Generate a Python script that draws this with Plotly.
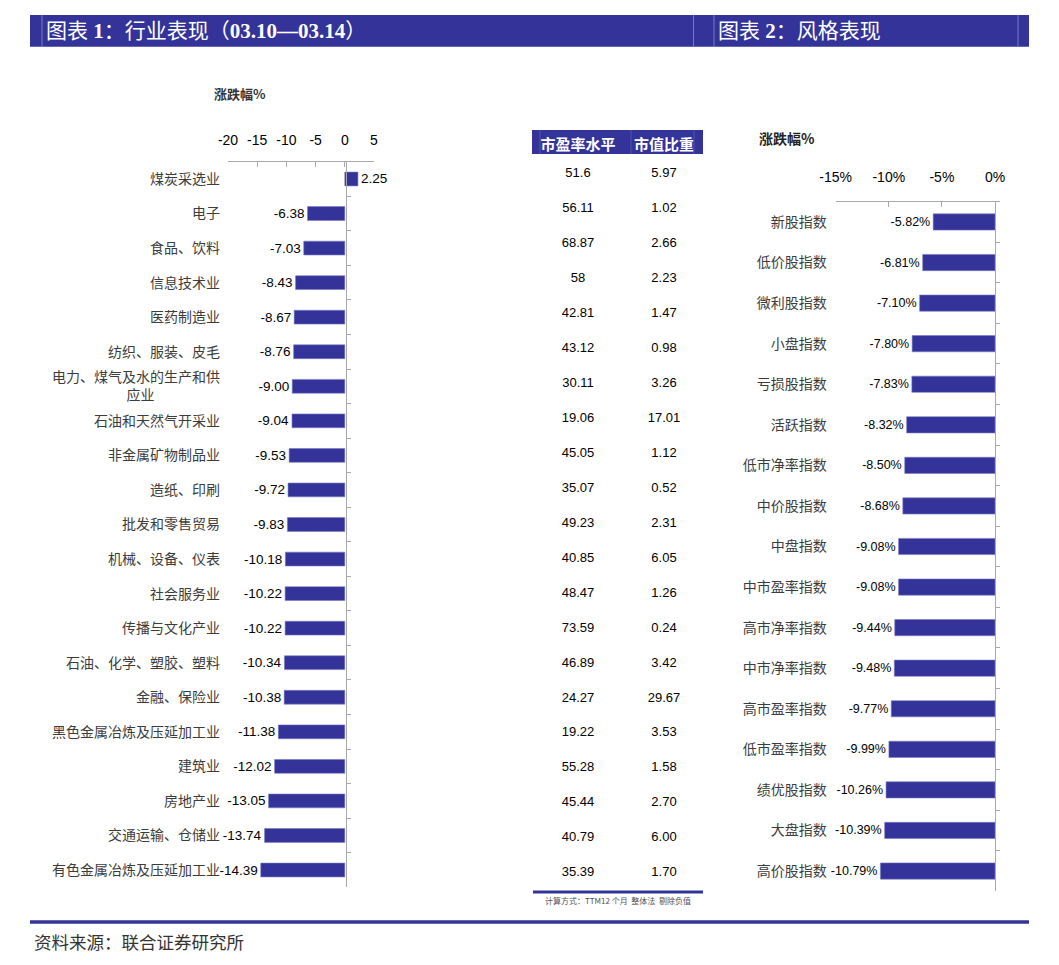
import plotly.graph_objects as go

W, H = 1059, 965
OFF = 8                      # page body margin of the browser
FW, FH = W - OFF, H - OFF    # figure size that fits the window

# ---------------- data ----------------
industries = ["煤炭采选业", "电子", "食品、饮料", "信息技术业", "医药制造业", "纺织、服装、皮毛",
              "电力、煤气及水的生产和供应业", "石油和天然气开采业", "非金属矿物制品业", "造纸、印刷",
              "批发和零售贸易", "机械、设备、仪表", "社会服务业", "传播与文化产业",
              "石油、化学、塑胶、塑料", "金融、保险业", "黑色金属冶炼及压延加工业", "建筑业",
              "房地产业", "交通运输、仓储业", "有色金属冶炼及压延加工业"]
industry_chg = [2.25, -6.38, -7.03, -8.43, -8.67, -8.76, -9.00, -9.04, -9.53, -9.72, -9.83,
                -10.18, -10.22, -10.22, -10.34, -10.38, -11.38, -12.02, -13.05, -13.74, -14.39]
table_cols = ["市盈率水平", "市值比重"]
pe_level = ["51.6", "56.11", "68.87", "58", "42.81", "43.12", "30.11", "19.06", "45.05", "35.07",
            "49.23", "40.85", "48.47", "73.59", "46.89", "24.27", "19.22", "55.28", "45.44",
            "40.79", "35.39"]
mkt_weight = ["5.97", "1.02", "2.66", "2.23", "1.47", "0.98", "3.26", "17.01", "1.12", "0.52",
              "2.31", "6.05", "1.26", "0.24", "3.42", "29.67", "3.53", "1.58", "2.70", "6.00",
              "1.70"]
styles = ["新股指数", "低价股指数", "微利股指数", "小盘指数", "亏损股指数", "活跃指数", "低市净率指数",
          "中价股指数", "中盘指数", "中市盈率指数", "高市净率指数", "中市净率指数", "高市盈率指数",
          "低市盈率指数", "绩优股指数", "大盘指数", "高价股指数"]
style_chg = [-5.82, -6.81, -7.10, -7.80, -7.83, -8.32, -8.50, -8.68, -9.08, -9.08, -9.44, -9.48,
             -9.77, -9.99, -10.26, -10.39, -10.79]
left_ticks = [-20, -15, -10, -5, 0, 5]
right_ticks = [-15, -10, -5, 0]

title1 = "图表 <b>1</b>：行业表现（<b>03.10—03.14</b>）"
title2 = "图表 <b>2</b>：风格表现"
axis_title = "涨跌幅%"
table_note = "计算方式：TTM12 个月  整体法  剔除负值"
source_text = "资料来源：联合证券研究所"

# ---------------- style ----------------
BLUE = "#333399"
EDGE = "#7a7ac4"
GREY = "#a8a8a8"
CJK = "Noto Sans CJK SC"
NUM = "Liberation Sans Narrow, Arial Narrow, Liberation Sans, Arial, sans-serif"


def px(x):
    return (x - OFF) / FW


def py(y):
    return 1 - (y - OFF) / FH


def wrap_label(s):
    if s == "电力、煤气及水的生产和供应业":
        return "电力、煤气及水的生产和供<br>应业" + "\u3000" * 4 + "\u00a0" * 3
    return s


fig = go.Figure()

# ---- chart 1: industries ----
fig.add_trace(go.Bar(
    x=industry_chg, y=industries, orientation="h", xaxis="x", yaxis="y",
    marker=dict(color=BLUE, line=dict(color=EDGE, width=0.6)),
    text=[f"{v:.2f}" for v in industry_chg], textposition="outside",
    cliponaxis=False, constraintext="none",
    textfont=dict(family=NUM, size=13.5, color="#000000"),
    hoverinfo="skip", showlegend=False))
fig.add_trace(go.Scatter(
    x=industry_chg, y=industries, xaxis="x", yaxis="y2", mode="markers",
    marker=dict(opacity=0), hoverinfo="skip", showlegend=False))

# ---- table ----
fig.add_trace(go.Scatter(
    x=[table_cols[0]] * len(industries), y=industries, xaxis="x3", yaxis="y3",
    mode="text", text=pe_level, textposition="middle center",
    textfont=dict(family=NUM, size=13, color="#000000"),
    hoverinfo="skip", showlegend=False, cliponaxis=False))
fig.add_trace(go.Scatter(
    x=[table_cols[1]] * len(industries), y=industries, xaxis="x3", yaxis="y3",
    mode="text", text=mkt_weight, textposition="middle center",
    textfont=dict(family=NUM, size=13, color="#000000"),
    hoverinfo="skip", showlegend=False, cliponaxis=False))

# ---- chart 2: styles ----
fig.add_trace(go.Bar(
    x=style_chg, y=styles, orientation="h", xaxis="x4", yaxis="y4",
    marker=dict(color=BLUE, line=dict(color=EDGE, width=0.6)),
    text=[f"{v:.2f}%" for v in style_chg], textposition="outside",
    cliponaxis=False, constraintext="none",
    textfont=dict(family=NUM, size=12.5, color="#000000"),
    hoverinfo="skip", showlegend=False))
fig.add_trace(go.Scatter(
    x=style_chg, y=styles, xaxis="x4", yaxis="y5", mode="markers",
    marker=dict(opacity=0), hoverinfo="skip", showlegend=False))

n1 = len(industries)
n2 = len(styles)

layout = dict(
    width=FW, height=FH,
    margin=dict(l=0, r=0, t=0, b=0, autoexpand=False),
    paper_bgcolor="white", plot_bgcolor="rgba(0,0,0,0)",
    showlegend=False, bargap=0.6,
    font=dict(family=CJK, color="#333333"),
    # chart 1
    xaxis=dict(domain=[px(228), px(374)], range=[-20, 5], side="top", anchor="y",
               tickmode="array", tickvals=left_ticks, ticktext=[str(t) for t in left_ticks],
               showline=True, linecolor=GREY, linewidth=1,
               ticks="inside", ticklen=5, tickcolor=GREY, automargin=False,
               showgrid=False, zeroline=False, ticklabelstandoff=10,
               tickfont=dict(family=NUM, size=14, color="#000000")),
    yaxis=dict(domain=[py(887.3), py(161.7)], type="category", categoryorder="array",
               categoryarray=industries, range=[n1 - 0.5, -0.5], anchor="x",
               tickmode="array", tickvals=industries,
               ticktext=[wrap_label(s) for s in industries],
               showline=False, ticks="", showgrid=False, zeroline=False,
               ticklabelstandoff=7, automargin=False,
               tickfont=dict(family=CJK, size=14, color="#3c3c3c")),
    yaxis2=dict(overlaying="y", anchor="free", position=px(345.7), side="right",
                type="category", categoryorder="array", categoryarray=industries,
                range=[n1 - 0.5, -0.5], showline=True, linecolor=GREY, linewidth=1,
                ticks="outside", ticklen=4, tickcolor=GREY, tickson="boundaries",
                showticklabels=False, showgrid=False, zeroline=False, automargin=False),
    # table
    xaxis3=dict(domain=[px(535), px(707)], type="category", categoryorder="array",
                categoryarray=table_cols, range=[-0.5, 1.5], side="top", anchor="y3",
                showline=False, ticks="", showgrid=False, zeroline=False,
                ticklabelstandoff=3, automargin=False,
                tickfont=dict(family=CJK, size=15, color="white", weight="bold")),
    yaxis3=dict(domain=[py(890.5), py(156.5)], type="category", categoryorder="array",
                categoryarray=industries, range=[n1 - 0.5, -0.5], anchor="x3",
                visible=False, showgrid=False, zeroline=False, automargin=False),
    # chart 2
    xaxis4=dict(domain=[px(835.7), px(995)], range=[-15, 0], side="top", anchor="y4",
                tickmode="array", tickvals=right_ticks, ticktext=[f"{t}%" for t in right_ticks],
                showline=True, linecolor=GREY, linewidth=1,
                ticks="inside", ticklen=5, tickcolor=GREY, automargin=False,
                showgrid=False, zeroline=False, ticklabelstandoff=13,
                tickfont=dict(family=NUM, size=14, color="#000000")),
    yaxis4=dict(domain=[py(891.3), py(201.7)], type="category", categoryorder="array",
                categoryarray=styles, range=[n2 - 0.5, -0.5], anchor="x4",
                showline=False, ticks="", showgrid=False, zeroline=False,
                ticklabelstandoff=8, automargin=False,
                tickfont=dict(family=CJK, size=14, color="#3c3c3c")),
    yaxis5=dict(overlaying="y4", anchor="x4", side="right",
                type="category", categoryorder="array", categoryarray=styles,
                range=[n2 - 0.5, -0.5], showline=True, linecolor=GREY, linewidth=1,
                ticks="outside", ticklen=4, tickcolor=GREY, tickson="boundaries",
                showticklabels=False, showgrid=False, zeroline=False, automargin=False),
)
fig.update_layout(**layout)

shapes = [
    # title bar
    dict(type="rect", xref="paper", yref="paper", x0=px(30), x1=px(1029), y0=py(46.7), y1=py(15),
         fillcolor=BLUE, line=dict(width=0), layer="below"),
    # table header
    dict(type="rect", xref="paper", yref="paper", x0=px(532), x1=px(703), y0=py(154), y1=py(130),
         fillcolor=BLUE, line=dict(width=0), layer="below"),
    # table bottom rule
    dict(type="line", xref="paper", yref="paper", x0=px(533), x1=px(703), y0=py(892), y1=py(892),
         line=dict(color=BLUE, width=3)),
    # footer rule
    dict(type="line", xref="paper", yref="paper", x0=px(30), x1=px(1029), y0=py(922), y1=py(922),
         line=dict(color=BLUE, width=3.5)),
]
for xv in [42, 693.5, 714, 1018]:
    shapes.append(dict(type="line", xref="paper", yref="paper", x0=px(xv), x1=px(xv),
                       y0=py(46.7), y1=py(15), line=dict(color=EDGE, width=1)))
for xv in [540, 631, 694]:
    shapes.append(dict(type="line", xref="paper", yref="paper", x0=px(xv), x1=px(xv),
                       y0=py(154), y1=py(130), line=dict(color="#5555aa", width=1)))
fig.update_layout(shapes=shapes)

annotations = [
    dict(text=title1, x=px(44), y=py(31), xref="paper", yref="paper", xanchor="left",
         yanchor="middle", showarrow=False,
         font=dict(family="Liberation Serif, " + CJK, size=21, color="white")),
    dict(text=title2, x=px(716), y=py(31), xref="paper", yref="paper", xanchor="left",
         yanchor="middle", showarrow=False,
         font=dict(family="Liberation Serif, " + CJK, size=21, color="white")),
    dict(text="<b>" + axis_title + "</b>", x=px(212), y=py(94), xref="paper", yref="paper",
         xanchor="left", yanchor="middle", showarrow=False,
         font=dict(family=CJK, size=13, color="#333333")),
    dict(text="<b>" + axis_title + "</b>", x=px(757), y=py(138), xref="paper", yref="paper",
         xanchor="left", yanchor="middle", showarrow=False,
         font=dict(family=CJK, size=14, color="#222222")),
    dict(text=table_note, x=px(618), y=py(900), xref="paper", yref="paper",
         xanchor="center", yanchor="middle", showarrow=False,
         font=dict(family=CJK, size=8, color="#555555")),
    dict(text=source_text, x=px(32), y=py(941), xref="paper", yref="paper",
         xanchor="left", yanchor="middle", showarrow=False,
         font=dict(family=CJK, size=17.5, color="#333333")),
]
fig.update_layout(annotations=annotations)

fig.write_html("out.html")
